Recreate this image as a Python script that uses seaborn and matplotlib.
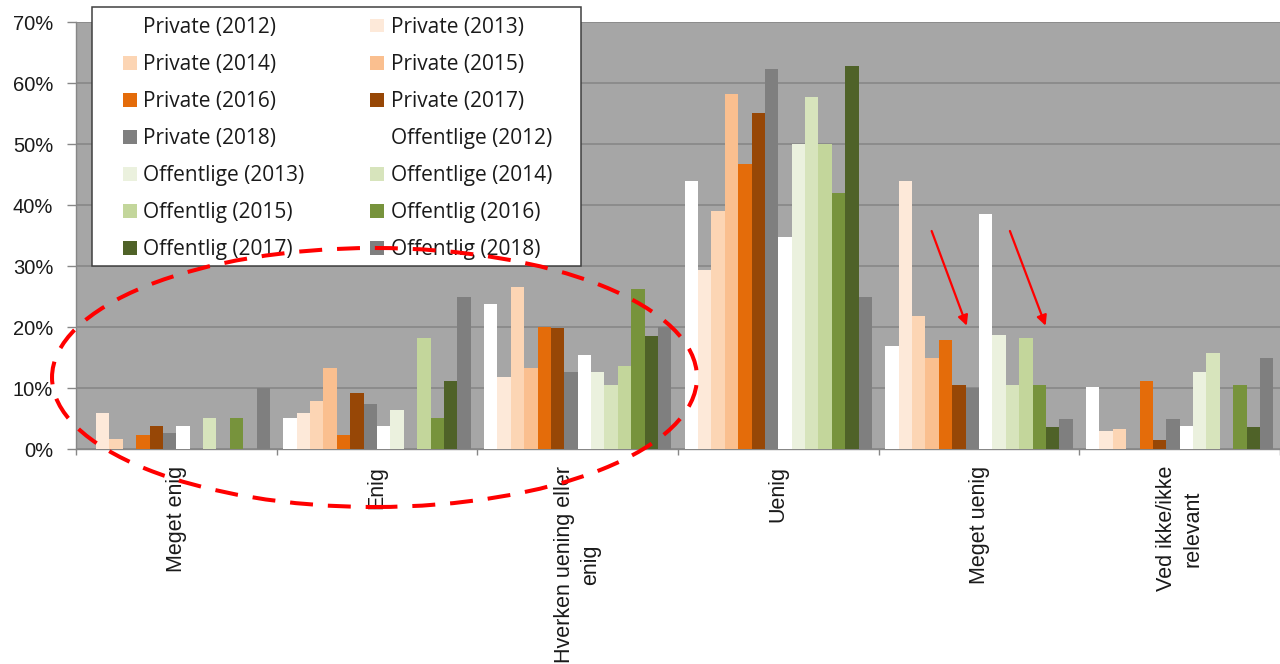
import numpy as np
import pandas as pd
import matplotlib
matplotlib.use("Agg")
import matplotlib.pyplot as plt
import seaborn as sns
from matplotlib.patches import Patch, Ellipse, Rectangle
from matplotlib.ticker import FixedLocator, FuncFormatter

# Survey answers (share of respondents, %)
categories = [
    "Meget enig",
    "Enig",
    "Hverken uening eller\nenig",
    "Uenig",
    "Meget uenig",
    "Ved ikke/ikke\nrelevant",
]

series = [
    "Private (2012)", "Private (2013)", "Private (2014)", "Private (2015)",
    "Private (2016)", "Private (2017)", "Private (2018)",
    "Offentlige (2012)", "Offentlige (2013)", "Offentlige (2014)",
    "Offentlig (2015)", "Offentlig (2016)", "Offentlig (2017)", "Offentlig (2018)",
]

colors = [
    "#FFFFFF", "#FDE9D9", "#FCD5B4", "#FABF8F", "#E46C0A", "#974706", "#7F7F7F",
    "#FFFFFF", "#EBF1DE", "#D7E4BC", "#C3D69B", "#77933C", "#4F6228", "#7F7F7F",
]

# one list per series, values in category order
private_2012 = [0.0, 5.2, 23.8, 44.0, 17.0, 10.2]
private_2013 = [5.9, 5.9, 11.9, 29.4, 44.0, 3.0]
private_2014 = [1.7, 7.9, 26.6, 39.1, 21.9, 3.3]
private_2015 = [0.0, 13.4, 13.4, 58.2, 15.0, 0.0]
private_2016 = [2.3, 2.3, 20.0, 46.7, 17.9, 11.2]
private_2017 = [3.9, 9.2, 19.9, 55.1, 10.5, 1.5]
private_2018 = [2.6, 7.4, 12.6, 62.4, 10.0, 5.0]
offentlige_2012 = [3.9, 3.9, 15.4, 34.8, 38.5, 3.9]
offentlige_2013 = [0.0, 6.4, 12.6, 50.0, 18.7, 12.6]
offentlige_2014 = [5.2, 0.0, 10.6, 57.8, 10.5, 15.8]
offentlig_2015 = [0.0, 18.3, 13.7, 50.0, 18.3, 0.0]
offentlig_2016 = [5.2, 5.2, 26.3, 42.0, 10.5, 10.5]
offentlig_2017 = [0.0, 11.2, 18.5, 62.9, 3.7, 3.7]
offentlig_2018 = [10.0, 25.0, 20.0, 25.0, 5.0, 15.0]

values = [
    private_2012, private_2013, private_2014, private_2015, private_2016,
    private_2017, private_2018, offentlige_2012, offentlige_2013,
    offentlige_2014, offentlig_2015, offentlig_2016, offentlig_2017,
    offentlig_2018,
]

yticks = [0, 10, 20, 30, 40, 50, 60, 70]

df = pd.DataFrame(
    [
        {"kategori": c, "serie": s, "andel": v}
        for s, vals in zip(series, values)
        for c, v in zip(categories, vals)
    ]
)

sns.set_style("ticks")
plt.rcParams["font.family"] = ["Liberation Sans", "DejaVu Sans"]

W, H = 1280, 664
fig = plt.figure(figsize=(W / 100, H / 100), dpi=100)
ax = fig.add_axes([76 / W, 1 - 449.3 / H, 1 - 76 / W, (449.3 - 22.3) / H])

palette = dict(zip(series, colors))
sns.barplot(
    data=df, x="kategori", y="andel", hue="serie",
    order=categories, hue_order=series, palette=palette,
    width=14 / 15, saturation=1, errorbar=None, linewidth=0,
    legend=False, ax=ax, zorder=3,
)

grid_c = "#878787"
label_c = "#1a1a1a"
ax.set_facecolor("#A6A6A6")
ax.set_xlim(-0.5, len(categories) - 0.5)
ax.set_ylim(0, 70)
ax.yaxis.set_major_locator(FixedLocator(yticks))
ax.yaxis.set_major_formatter(FuncFormatter(lambda v, p: f"{v:.0f}%"))
ax.grid(axis="y", color=grid_c, linewidth=1.2, zorder=1)
ax.set_axisbelow(True)
ax.set_xlabel("")
ax.set_ylabel("")

for side in ("top", "right"):
    ax.spines[side].set_visible(False)
for side in ("left", "bottom"):
    ax.spines[side].set_color(grid_c)
    ax.spines[side].set_linewidth(1.0)

ax.tick_params(axis="y", length=6.5, width=1.0, color=grid_c, pad=10,
               labelsize=14.5, labelcolor=label_c)
ax.set_xticks(np.arange(len(categories)))
ax.set_xticklabels(categories, rotation=90, ha="center", va="top",
                   multialignment="center", fontsize=15.5, color=label_c,
                   linespacing=1.33)
ax.tick_params(axis="x", which="major", length=0, pad=12)
ax.set_xticks(np.arange(len(categories) + 1) - 0.5, minor=True)
ax.tick_params(axis="x", which="minor", length=4.5, width=1.0, color=grid_c)

# legend box
box = Rectangle((91.7 / W, 1 - 266 / H), (581 - 91.7) / W, (266 - 6.7) / H,
                transform=fig.transFigure, facecolor="white",
                edgecolor="#404040", linewidth=1.1, clip_on=False, zorder=4.9)
ax.add_patch(box)

handles = [Patch(facecolor=palette[s], edgecolor="none") for s in series]
order = list(range(0, 14, 2)) + list(range(1, 14, 2))
leg = ax.legend(
    [handles[i] for i in order], [series[i] for i in order],
    ncol=2, mode="expand", loc="upper left",
    bbox_to_anchor=(123 / W, 1 - 300 / H, (552 - 123) / W, (300 - 17) / H),
    bbox_transform=fig.transFigure, frameon=False, borderpad=0,
    borderaxespad=0, handlelength=0.67, handleheight=0.63,
    handletextpad=0.3, labelspacing=0.77,
    prop={"family": ["Open Sans", "DejaVu Sans"], "size": 15},
)
leg.set_zorder(5)
for t in leg.get_texts():
    t.set_color(label_c)

# red highlight annotations
ell = Ellipse((0.9875, 11.77), 3.214, 42.46, fill=False, edgecolor="#FF0000",
              linewidth=2.9, linestyle=(0, (5.7, 3.7)), clip_on=False,
              zorder=6)
ell.set_capstyle("butt")
ax.add_patch(ell)

for x0, x1 in [(3.764, 3.939), (4.154, 4.332)]:
    ax.annotate("", xy=(x1, 20.26), xytext=(x0, 35.79),
                arrowprops=dict(arrowstyle="-|>,head_length=0.6,head_width=0.3",
                                color="#FF0000", linewidth=1.6,
                                shrinkA=0, shrinkB=0),
                zorder=6)

fig.savefig("out.png", dpi=100, facecolor="white")
